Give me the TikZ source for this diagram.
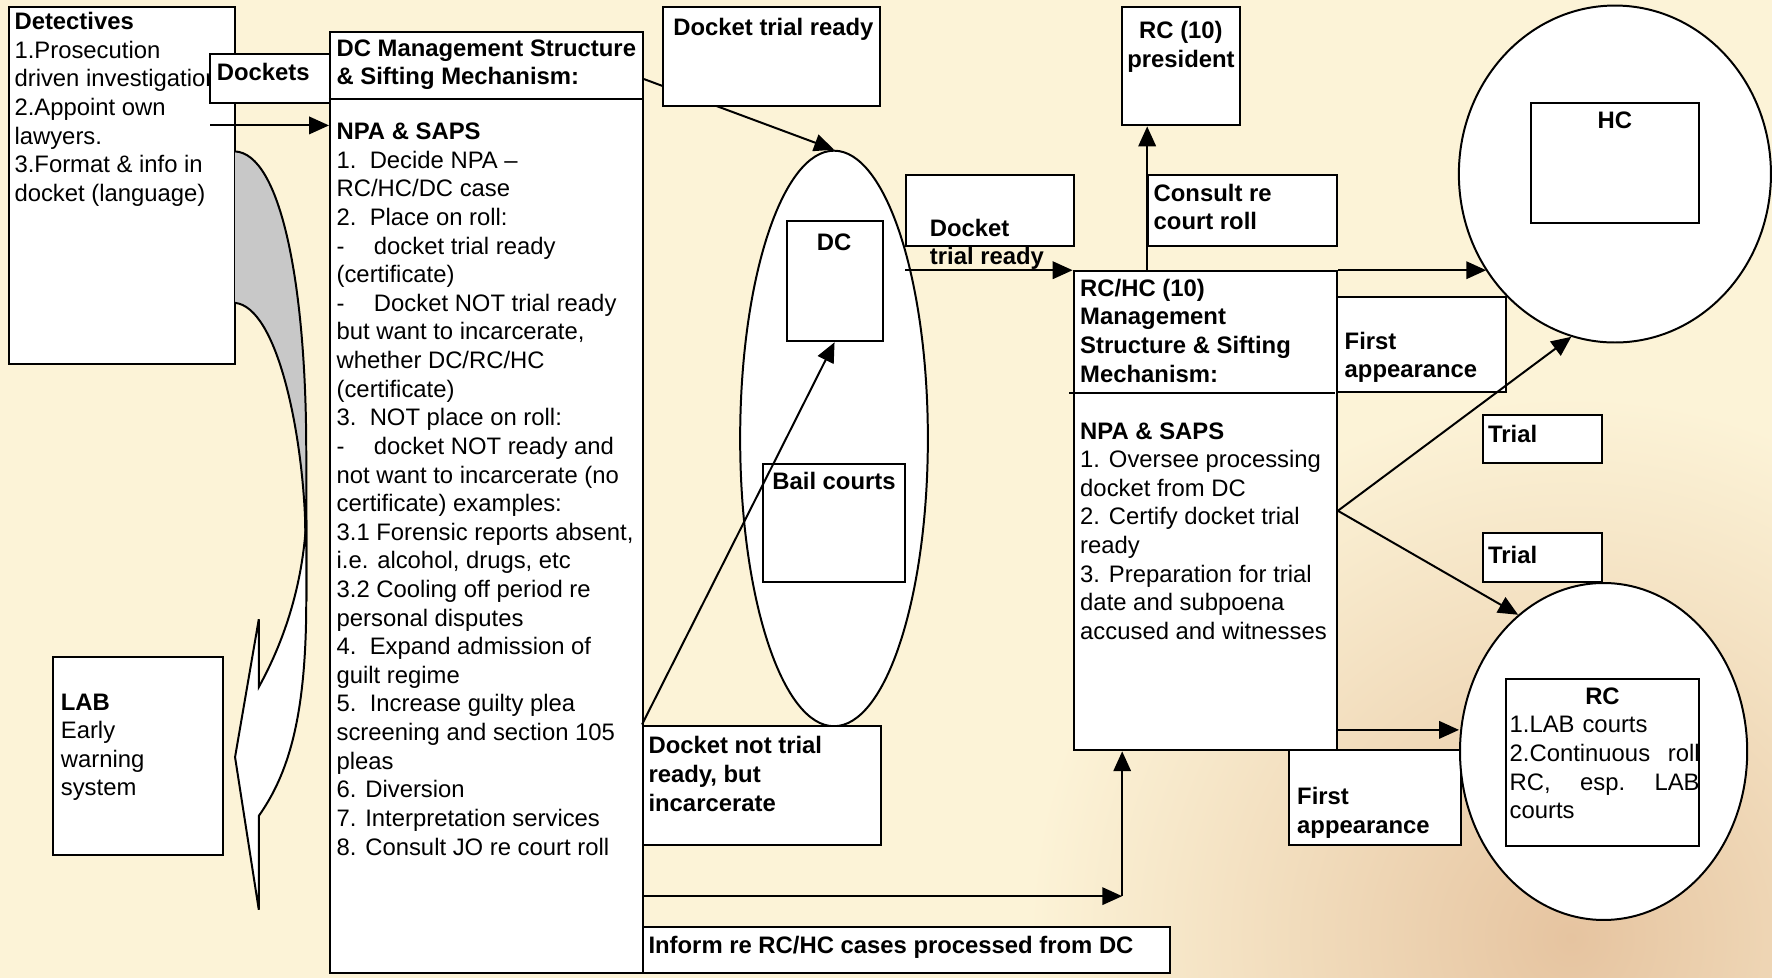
\documentclass[tikz,border=0pt]{standalone}
\usepackage{fontspec}
\setmainfont{Liberation Sans}
\usetikzlibrary{arrows.meta,positioning,calc,fit,shapes.geometric}
\definecolor{cream}{RGB}{252,243,215}
\definecolor{backgray}{RGB}{200,200,200}
\definecolor{faded}{RGB}{230,196,160}
\newcommand{\diagfont}{\fontsize{6}{7.2}\selectfont}

\tikzset{
  box/.style={draw, fill=white, inner sep=0pt},
  ell/.style={ellipse, draw, fill=white, inner sep=0pt},
  txt/.style={anchor=north west, align=left, inner sep=0pt, execute at begin node=\strut},
  btxt/.style={txt, font=\diagfont\bfseries},
  ctxt/.style={anchor=north, align=center, inner sep=0pt, font=\diagfont\bfseries, execute at begin node=\strut},
}

\begin{document}
\begin{tikzpicture}[x=0.01cm, y=-0.01cm, >={Triangle[length=5pt,width=4.4pt]}, line width=0.5pt, font=\diagfont]
  \useasboundingbox (0,0) rectangle (1568,865);
  \fill[cream] (0,0) rectangle (1568,865);
  \begin{scope}
    \clip (0,0) rectangle (1568,865);
    \shade[inner color=faded, outer color=cream] (1390,830) circle (480);
  \end{scope}

  % detectives and dockets
  \node[box, fit={(8,6) (208,322)}] (det) {};
  \node[txt] (det-t) at (12,10) {\textbf{Detectives}\\1.Prosecution\\driven investigation\\2.Appoint own\\lawyers.\\3.Format \& info in\\docket (language)};
  \node[box, fit={(186,48) (292,91)}] (dockets) {};
  \node[btxt] (dockets-t) at (191,53) {Dockets};
  \coordinate (detout) at (186,111);

  % curved arrow to LAB
  \filldraw[fill=backgray] (208,134) .. controls (248,136) and (271,250) .. (271,400) -- (271,532) -- (270,460) .. controls (267,380) and (245,272) .. (208,268);
  \filldraw[fill=white] (271,460) .. controls (268,520) and (250,570) .. (229,608) -- (229,548) -- (208,670) -- (229,805) -- (229,722) .. controls (255,685) and (271,635) .. (271,532) -- cycle;

  \node[box, fit={(47,581) (197,757)}] (lab) {};
  \node[txt] (lab-t) at (53,613) {\textbf{LAB}\\Early\\warning\\system};

  % DC sifting box
  \node[box, fit={(292,28) (569,861)}] (dc) {};
  \draw (dc.west |- 0,88) -- (dc.east |- 0,88);
  \node[btxt] (dc-h) at (297,34) {DC Management Structure\\\& Sifting Mechanism:};
  \node[txt] (dc-t) at (297,108) {\textbf{NPA \& SAPS}\\
    1.\ \ Decide NPA --\\RC/HC/DC case\\
    2.\ \ Place on roll:\\
    -\hspace{2.6mm}docket trial ready\\(certificate)\\
    -\hspace{2.6mm}Docket NOT trial ready\\but want to incarcerate,\\whether DC/RC/HC\\(certificate)\\
    3.\ \ NOT place on roll:\\
    -\hspace{2.6mm}docket NOT ready and\\not want to incarcerate (no\\certificate) examples:\\
    3.1 Forensic reports absent,\\i.e. alcohol, drugs, etc\\
    3.2 Cooling off period re\\personal disputes\\
    4.\ \ Expand admission of\\guilt regime\\
    5.\ \ Increase guilty plea\\screening and section 105\\pleas\\
    6. Diversion\\
    7. Interpretation services\\
    8. Consult JO re court roll};
  \draw[->] (detout) -- (detout -| dc.west);

  % DC courts
  \node[ell, minimum width=1.66cm, minimum height=5.09cm] (dcell) at (738,388) {};
  \draw[->] (dc.east |- 0,70) -- (dcell.north);
  \node[box, fit={(587,6) (779,94)}] (dtr) {};
  \node[btxt] (dtr-t) at (595,13) {Docket trial ready};
  \node[box, fit={(696,196) (781,302)}] (dcin) {};
  \node[ctxt] (dcin-t) at (738,203) {DC};
  \node[box, fit={(675,411) (801,515)}] (bail) {};
  \node[ctxt] (bail-t) at (738,415) {Bail courts};
  \node[box, fit={(569,642) (780,748)}] (nr) {};
  \node[btxt] (nr-t) at (573,651) {Docket not trial\\ready, but\\incarcerate};
  \draw[->] (nr.north west) -- (dcin.south);

  % RC/HC sifting box
  \node[box, fit={(802,155) (950,218)}] (dtr2) {};
  \node[btxt] (dtr2-t) at (822,193) {Docket\\trial ready};
  \node[box, fit={(950,240) (1183,664)}] (rchc) {};
  \draw[->] (dtr2.west |- rchc.north west) -- (rchc.north west);
  \draw (946,348) -- (1181,348);
  \node[btxt] (rchc-h) at (955,246) {RC/HC (10)\\Management\\Structure \& Sifting\\Mechanism:};
  \node[txt] (rchc-t) at (955,373) {\textbf{NPA \& SAPS}\\1. Oversee processing\\docket from DC\\2. Certify docket trial\\ready\\3. Preparation for trial\\date and subpoena\\accused and witnesses};

  \node[box, fit={(993,6) (1097,111)}] (pres) {};
  \node[ctxt] (pres-t) at (1045,18) {RC (10)\\president};
  \node[box, fit={(1016,155) (1183,218)}] (consult) {};
  \node[btxt] (consult-t) at (1020,162) {Consult re\\court roll};
  \draw[->] (consult.west |- rchc.north) -- (consult.west |- pres.south);

  % HC and RC
  \node[ell, minimum width=2.76cm, minimum height=2.98cm] (hc) at (1429,154) {};
  \node[box, fit={(1355,91) (1503,197)}] (hcin) {};
  \node[ctxt] (hcin-t) at (1429,95) {HC};
  \draw[->] (rchc.north east) -- (rchc.north east -| hc.217);
  \node[box, fit={(1183,263) (1333,347)}] (fa1) {};
  \node[btxt] (fa1-t) at (1189,293) {First\\appearance};

  \node[box, fit={(1312,367) (1418,410)}] (trial1) {};
  \node[btxt] (trial1-t) at (1316,373) {Trial};
  \node[box, fit={(1312,472) (1418,515)}] (trial2) {};
  \node[btxt] (trial2-t) at (1316,480) {Trial};

  \node[box, fit={(1141,664) (1293,748)}] (fa2) {};
  \node[btxt] (fa2-t) at (1147,696) {First\\appearance};
  \node[ell, minimum width=2.54cm, minimum height=2.98cm] (rc) at (1419,665) {};
  \node[box, fit={(1333,601) (1503,749)}] (rcin) {};
  \node[ctxt] (rcin-h) at (1418,605) {RC};
  \node[txt, text width=1.68cm] (rcin-t) at (1335,630) {1.LAB courts\\2.Continuous\hfill roll\\RC,\hfill esp.\hfill LAB\\courts};

  \draw[->] (rchc.east) -- (hc.255);
  \draw[->] (rchc.east) -- (rc.122);
  \coordinate (rcarr) at ($(rchc.south east)+(0,-19)$);
  \draw[->] (rcarr) -- (rcarr -| rc.west);

  % inform back to RC/HC
  \coordinate (bend) at (993,793);
  \draw[->] (dc.east |- bend) -- (bend);
  \draw[->] (bend) -- (bend |- rchc.south);
  \node[box, fit={(569,820) (1035,861)}] (inform) {};
  \node[btxt] (inform-t) at (573,825) {Inform re RC/HC cases processed from DC};
\end{tikzpicture}
\end{document}
